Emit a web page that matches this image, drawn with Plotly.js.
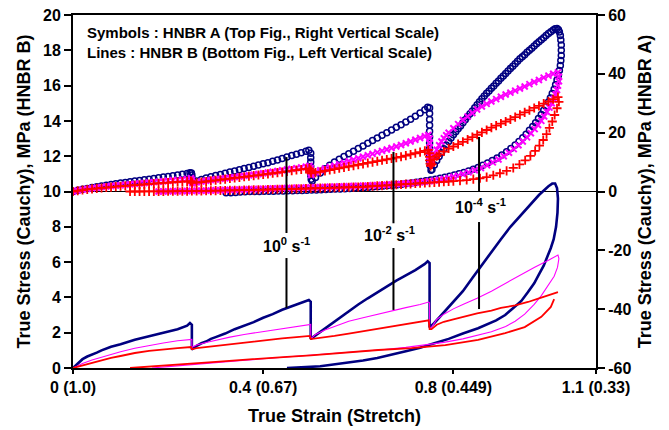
<!DOCTYPE html>
<html>
<head>
<meta charset="utf-8">
<script src="https://cdn.plot.ly/plotly-3.0.1.min.js"></script>
<style>
  html, body { margin: 0; padding: 0; background: #fff; }
  #chart { width: 669px; height: 430px; }
</style>
</head>
<body>
<div id="chart"></div>
<script>
// HNBR A (symbols, right scale): [true strain, true stress MPa]
const hnbrA_rate0_load = [
  [0,0],[0.01,0.4],[0.02,0.75],[0.03,1.05],[0.04,1.35],[0.05,1.6],[0.06,1.85],[0.07,2.1],[0.08,2.35],[0.09,2.6],[0.10,2.85],[0.11,3.1],[0.12,3.3],[0.13,3.55],[0.14,3.75],[0.15,4.0],[0.16,4.2],[0.17,4.45],[0.18,4.65],[0.19,4.9],[0.20,5.1],[0.21,5.35],[0.22,5.6],[0.23,5.85],[0.24,6.1],[0.246,6.35],[0.249,6.3],[0.25,5.6],[0.25,4.8],[0.25,4.0],[0.251,3.4],
  [0.26,3.6],[0.27,4.1],[0.28,4.6],[0.29,5.0],[0.30,5.4],[0.31,5.8],[0.32,6.2],[0.33,6.6],[0.34,7.0],[0.35,7.4],[0.36,7.8],[0.37,8.2],[0.38,8.6],[0.39,9.0],[0.40,9.4],[0.41,9.8],[0.42,10.3],[0.43,10.7],[0.44,11.2],[0.45,11.7],[0.46,12.2],[0.47,12.7],[0.48,13.2],[0.49,13.7],[0.496,14.0],[0.5,13.0],[0.5,11.5],[0.5,10.0],[0.5,8.5],[0.5,7.0],[0.5,5.5],[0.501,4.2],[0.503,3.6],
  [0.51,4.8],[0.52,6.3],[0.53,7.7],[0.54,8.9],[0.55,10.0],[0.56,11.0],[0.57,11.9],[0.58,12.8],[0.59,13.7],[0.60,14.6],[0.61,15.5],[0.62,16.4],[0.63,17.3],[0.64,18.2],[0.65,19.1],[0.66,20.0],[0.67,20.9],[0.68,21.8],[0.69,22.7],[0.70,23.6],[0.71,24.6],[0.72,25.6],[0.73,26.7],[0.74,27.8],[0.746,28.6],[0.75,28.4],[0.75,26.5],[0.75,24.5],[0.75,22.5],[0.75,20.5],[0.75,18.5],[0.75,16.5],[0.75,14.5],[0.75,12.5],[0.75,10.5],[0.751,8.8],[0.753,7.2],
  [0.755,7.5],[0.76,9.0],[0.765,10.5],[0.77,11.9],[0.775,13.2],[0.78,14.5],[0.785,15.8],[0.79,17.0],[0.795,18.2],[0.80,19.3],[0.805,20.3],[0.81,21.3],[0.815,22.3],[0.82,23.4],[0.825,24.4],[0.83,25.4],[0.835,26.4],[0.84,27.4],[0.845,28.5],[0.85,29.5],[0.855,30.5],[0.86,31.5],[0.865,32.5],[0.87,33.4],[0.875,34.2],[0.88,35.1],[0.885,35.9],[0.89,36.8],[0.895,37.6],[0.90,38.5],[0.905,39.3],[0.91,40.1],[0.915,41.0],[0.92,41.8],[0.925,42.6],[0.93,43.4],[0.935,44.3],[0.94,45.1],[0.945,45.8],[0.95,46.5],[0.955,47.3],[0.96,48.0],[0.965,48.7],[0.97,49.5],[0.975,50.2],[0.98,50.9],[0.985,51.6],[0.99,52.3],[0.995,53.0],[1.0,53.7],[1.005,54.3],[1.01,54.9],[1.014,55.3],[1.018,55.4],[1.021,55.0],[1.023,54.2],[1.025,53.0]
];
const hnbrA_rate0_unload = [
  [1.026,51.5],[1.027,49.8],[1.027,48.0],[1.027,46.2],[1.026,44.5],[1.025,42.8],[1.023,41.1],[1.021,39.5],[1.018,37.9],[1.015,36.3],[1.012,34.8],[1.008,33.3],[1.004,31.8],[1.0,30.4],[0.995,29.0],[0.99,27.6],[0.985,26.2],[0.979,24.8],[0.973,23.4],[0.967,22.1],[0.96,20.8],[0.953,19.5],[0.946,18.3],[0.938,17.0],[0.93,15.8],[0.921,14.6],[0.912,13.5],[0.902,12.4],[0.892,11.4],[0.882,10.5],[0.872,9.7],[0.862,8.9],[0.852,8.2],[0.842,7.6],[0.832,7.0],[0.822,6.5],[0.812,6.0],[0.802,5.6],[0.792,5.2],[0.782,4.85],[0.772,4.5],[0.762,4.2],[0.752,3.9],[0.742,3.65],[0.732,3.4],[0.722,3.15],[0.712,2.9],[0.702,2.7],[0.692,2.5],[0.682,2.3],[0.672,2.15],[0.662,2.0],[0.652,1.85],[0.642,1.7],[0.632,1.58],[0.622,1.46],[0.612,1.35],[0.602,1.25],[0.592,1.15],[0.582,1.05],[0.572,0.97],[0.562,0.89],[0.552,0.81],[0.542,0.74],[0.532,0.67],[0.522,0.6],[0.512,0.54],[0.502,0.48],[0.492,0.42],[0.482,0.37],[0.472,0.32],[0.462,0.27],[0.452,0.23],[0.442,0.19],[0.432,0.15],[0.422,0.12],[0.412,0.09],[0.402,0.06],[0.392,0.04],[0.382,0.02],[0.372,0.0],[0.362,-0.1],[0.352,-0.2],[0.342,-0.3],[0.332,-0.4],[0.322,-0.4]
];
const hnbrA_rate2_load = [
  [0,0],[0.01,0.35],[0.02,0.65],[0.03,0.9],[0.04,1.1],[0.05,1.3],[0.06,1.5],[0.07,1.7],[0.08,1.85],[0.09,2.0],[0.10,2.15],[0.11,2.3],[0.12,2.45],[0.13,2.6],[0.14,2.75],[0.15,2.9],[0.16,3.05],[0.17,3.2],[0.18,3.35],[0.19,3.5],[0.20,3.65],[0.21,3.8],[0.22,3.95],[0.23,4.1],[0.24,4.3],[0.248,4.5],[0.25,3.9],[0.25,3.3],[0.251,2.8],
  [0.26,3.1],[0.27,3.4],[0.28,3.65],[0.29,3.9],[0.30,4.1],[0.31,4.3],[0.32,4.5],[0.33,4.7],[0.34,4.9],[0.35,5.1],[0.36,5.3],[0.37,5.5],[0.38,5.7],[0.39,5.95],[0.40,6.2],[0.41,6.45],[0.42,6.7],[0.43,6.95],[0.44,7.2],[0.45,7.45],[0.46,7.7],[0.47,7.95],[0.48,8.2],[0.49,8.45],[0.497,8.7],[0.5,8.0],[0.5,7.2],[0.5,6.4],[0.501,5.6],
  [0.51,6.5],[0.52,7.2],[0.53,7.8],[0.54,8.3],[0.55,8.8],[0.56,9.3],[0.57,9.8],[0.58,10.3],[0.59,10.8],[0.60,11.3],[0.61,11.8],[0.62,12.3],[0.63,12.8],[0.64,13.3],[0.65,13.8],[0.66,14.3],[0.67,14.8],[0.68,15.3],[0.69,15.8],[0.70,16.4],[0.71,17.0],[0.72,17.6],[0.73,18.2],[0.74,18.8],[0.747,19.2],[0.75,18.0],[0.75,16.5],[0.75,15.0],[0.75,13.5],[0.75,12.0],[0.751,10.5],[0.752,9.5],
  [0.755,10.5],[0.76,12.5],[0.765,14.2],[0.77,15.7],[0.775,17.0],[0.78,18.1],[0.785,19.1],[0.79,20.0],[0.80,21.5],[0.81,22.9],[0.82,24.3],[0.83,25.5],[0.84,26.7],[0.85,27.9],[0.86,28.9],[0.87,29.8],[0.88,30.6],[0.89,31.4],[0.90,32.2],[0.91,33.0],[0.92,33.6],[0.93,34.3],[0.94,35.0],[0.95,35.7],[0.96,36.5],[0.97,37.2],[0.98,37.9],[0.99,38.7],[1.0,39.4],[1.01,40.0],[1.02,40.5]
];
const hnbrA_rate2_unload = [
  [1.022,39.0],[1.022,37.5],[1.02,36.0],[1.018,34.5],[1.015,33.0],[1.011,31.5],[1.007,30.0],[1.002,28.5],[0.997,27.0],[0.991,25.5],[0.985,24.0],[0.978,22.6],[0.971,21.2],[0.963,19.8],[0.955,18.4],[0.946,17.0],[0.937,15.7],[0.927,14.4],[0.917,13.2],[0.906,12.0],[0.895,10.9],[0.883,9.9],[0.871,8.9],[0.858,8.0],[0.845,7.2],[0.832,6.5],[0.82,5.9],[0.81,5.4],[0.80,5.0],[0.79,4.6],[0.78,4.3],[0.77,4.0],[0.76,3.7],[0.75,3.5],[0.74,3.3],[0.73,3.1],[0.72,2.95],[0.71,2.8],[0.70,2.7],[0.69,2.6],[0.68,2.5],[0.67,2.4],[0.66,2.3],[0.65,2.2],[0.64,2.15],[0.63,2.1],[0.62,2.0],[0.61,1.95],[0.60,1.9],[0.59,1.85],[0.58,1.8],[0.57,1.75],[0.56,1.7],[0.55,1.65],[0.54,1.6],[0.53,1.55],[0.52,1.5],[0.51,1.45],[0.50,1.4],[0.49,1.35],[0.48,1.3],[0.47,1.25],[0.46,1.2],[0.45,1.15],[0.44,1.1],[0.43,1.05],[0.42,1.0],[0.41,0.95],[0.40,0.9],[0.39,0.85],[0.38,0.8],[0.37,0.75],[0.36,0.7],[0.35,0.65],[0.34,0.6],[0.33,0.55],[0.32,0.5],[0.31,0.45],[0.30,0.4],[0.29,0.35],[0.28,0.3],[0.27,0.27],[0.26,0.24],[0.25,0.2],[0.24,0.17],[0.23,0.14],[0.22,0.1],[0.21,0.07],[0.20,0.04],[0.19,0.02],[0.18,0.0]
];
const hnbrA_rate4_load = [
  [0,0],[0.01,0.25],[0.02,0.5],[0.03,0.7],[0.04,0.9],[0.05,1.05],[0.06,1.2],[0.07,1.35],[0.08,1.5],[0.09,1.65],[0.10,1.8],[0.11,1.9],[0.12,2.05],[0.13,2.2],[0.14,2.3],[0.15,2.45],[0.16,2.55],[0.17,2.7],[0.18,2.8],[0.19,2.95],[0.20,3.05],[0.21,3.15],[0.22,3.25],[0.23,3.35],[0.24,3.45],[0.248,3.55],[0.25,3.2],[0.251,2.9],
  [0.26,3.0],[0.27,3.2],[0.28,3.4],[0.29,3.6],[0.30,3.8],[0.31,4.0],[0.32,4.2],[0.33,4.4],[0.34,4.6],[0.35,4.8],[0.36,5.0],[0.37,5.2],[0.38,5.4],[0.39,5.6],[0.40,5.8],[0.41,6.0],[0.42,6.2],[0.43,6.4],[0.44,6.6],[0.45,6.85],[0.46,7.1],[0.47,7.3],[0.48,7.5],[0.49,7.7],[0.497,7.85],[0.5,7.3],[0.5,6.7],[0.501,6.2],
  [0.51,6.4],[0.52,6.7],[0.53,7.0],[0.54,7.3],[0.55,7.6],[0.56,7.9],[0.57,8.2],[0.58,8.5],[0.59,8.8],[0.60,9.1],[0.61,9.4],[0.62,9.7],[0.63,10.0],[0.64,10.3],[0.65,10.6],[0.66,10.9],[0.67,11.2],[0.68,11.5],[0.69,11.8],[0.70,12.2],[0.71,12.6],[0.72,13.0],[0.73,13.4],[0.74,13.8],[0.747,14.1],[0.75,13.0],[0.75,11.8],[0.75,10.6],[0.751,9.5],[0.752,8.7],
  [0.755,9.2],[0.76,11.0],[0.765,12.0],[0.77,12.6],[0.78,13.6],[0.79,14.6],[0.80,15.3],[0.81,16.1],[0.82,16.9],[0.83,17.7],[0.84,18.5],[0.85,19.3],[0.86,20.1],[0.87,20.9],[0.88,21.7],[0.89,22.4],[0.90,23.1],[0.91,23.8],[0.92,24.5],[0.93,25.3],[0.94,26.1],[0.95,26.9],[0.96,27.6],[0.97,28.4],[0.98,29.1],[0.99,29.9],[1.0,30.6],[1.01,31.4],[1.02,32.1]
];
const hnbrA_rate4_unload = [
  [1.022,30.5],[1.018,28.3],[1.013,26.0],[1.008,23.8],[1.002,21.6],[0.996,19.5],[0.989,17.5],[0.981,15.6],[0.972,13.8],[0.962,12.1],[0.951,10.6],[0.939,9.2],[0.926,8.0],[0.912,7.0],[0.898,6.2],[0.884,5.5],[0.87,4.9],[0.856,4.5],[0.842,4.2],[0.828,3.9],[0.814,3.7],[0.80,3.5],[0.79,3.4],[0.78,3.3],[0.77,3.2],[0.76,3.1],[0.75,3.0],[0.74,2.9],[0.73,2.8],[0.72,2.7],[0.71,2.6],[0.70,2.5],[0.69,2.4],[0.68,2.3],[0.67,2.2],[0.66,2.1],[0.65,2.0],[0.64,1.9],[0.63,1.8],[0.62,1.7],[0.61,1.6],[0.60,1.55],[0.59,1.5],[0.58,1.45],[0.57,1.4],[0.56,1.35],[0.55,1.3],[0.54,1.25],[0.53,1.2],[0.52,1.15],[0.51,1.1],[0.50,1.05],[0.49,1.0],[0.48,0.95],[0.47,0.9],[0.46,0.86],[0.45,0.82],[0.44,0.78],[0.43,0.74],[0.42,0.7],[0.41,0.66],[0.40,0.62],[0.39,0.58],[0.38,0.54],[0.37,0.5],[0.36,0.47],[0.35,0.44],[0.34,0.41],[0.33,0.38],[0.32,0.35],[0.31,0.32],[0.30,0.29],[0.29,0.26],[0.28,0.23],[0.27,0.2],[0.26,0.18],[0.25,0.16],[0.24,0.14],[0.23,0.12],[0.22,0.1],[0.21,0.08],[0.20,0.06],[0.19,0.05],[0.18,0.04],[0.17,0.03],[0.16,0.02],[0.15,0.01],[0.14,0.0],[0.13,0.0],[0.12,0.0]
];

// HNBR B (lines, left scale): [true strain, true stress MPa]
const hnbrB_rate0 = [
  [0,0],[0.01,0.25],[0.02,0.5],[0.03,0.65],[0.04,0.75],[0.05,0.87],[0.06,1.0],[0.08,1.2],[0.10,1.35],[0.13,1.6],[0.16,1.8],[0.18,1.93],[0.20,2.05],[0.22,2.2],[0.24,2.4],[0.246,2.55],[0.25,2.45],[0.25,1.05],
  [0.26,1.25],[0.27,1.4],[0.28,1.5],[0.29,1.65],[0.30,1.75],[0.32,1.95],[0.34,2.2],[0.36,2.4],[0.38,2.6],[0.40,2.85],[0.42,3.05],[0.44,3.3],[0.46,3.5],[0.48,3.7],[0.496,3.85],[0.5,3.75],[0.5,1.65],
  [0.51,1.85],[0.52,2.05],[0.53,2.25],[0.54,2.45],[0.55,2.65],[0.56,2.85],[0.57,3.05],[0.58,3.25],[0.60,3.6],[0.62,3.95],[0.64,4.3],[0.66,4.65],[0.68,4.95],[0.70,5.25],[0.72,5.55],[0.74,5.9],[0.746,6.05],[0.75,5.95],[0.75,2.3],
  [0.76,2.55],[0.77,2.85],[0.78,3.1],[0.80,3.7],[0.82,4.35],[0.84,5.1],[0.86,5.85],[0.88,6.6],[0.90,7.3],[0.92,8.0],[0.94,8.6],[0.96,9.2],[0.98,9.8],[1.0,10.3],[1.008,10.45],[1.014,10.45],[1.018,10.2],[1.02,9.6],
  [1.019,8.8],[1.016,8.0],[1.011,7.3],[1.005,6.8],[0.998,6.3],[0.99,5.8],[0.98,5.3],[0.97,4.8],[0.957,4.3],[0.943,3.8],[0.926,3.4],[0.909,3.0],[0.89,2.7],[0.87,2.45],[0.852,2.25],[0.82,1.95],[0.79,1.65],[0.76,1.4],[0.73,1.15],[0.70,0.95],[0.67,0.75],[0.64,0.57],[0.61,0.42],[0.58,0.3],[0.55,0.2],[0.52,0.1],[0.49,0.05],[0.45,0.0]
];
const hnbrB_rate2 = [
  [0,0],[0.02,0.25],[0.04,0.45],[0.06,0.62],[0.08,0.78],[0.10,0.92],[0.13,1.12],[0.16,1.28],[0.19,1.42],[0.22,1.54],[0.245,1.64],[0.25,1.62],[0.25,1.17],
  [0.26,1.3],[0.28,1.45],[0.30,1.58],[0.33,1.75],[0.36,1.9],[0.39,2.03],[0.42,2.15],[0.45,2.28],[0.48,2.4],[0.497,2.49],[0.5,2.47],[0.5,1.65],
  [0.51,1.9],[0.53,2.15],[0.55,2.35],[0.58,2.65],[0.61,2.85],[0.64,3.05],[0.67,3.23],[0.70,3.42],[0.73,3.6],[0.748,3.74],[0.75,3.7],[0.75,2.27],
  [0.754,2.3],[0.765,2.75],[0.78,3.05],[0.80,3.35],[0.82,3.6],[0.85,3.95],[0.88,4.35],[0.91,4.8],[0.94,5.25],[0.97,5.7],[1.0,6.1],[1.02,6.4],
  [1.022,6.2],[1.019,5.7],[1.012,5.2],[1.0,4.7],[0.985,4.1],[0.97,3.6],[0.95,3.05],[0.93,2.65],[0.91,2.35],[0.88,2.05],[0.85,1.85],[0.82,1.65],[0.78,1.45],[0.74,1.3],[0.70,1.17],[0.65,1.03],[0.60,0.92],[0.55,0.82],[0.50,0.72],[0.45,0.63],[0.40,0.52],[0.35,0.42],[0.30,0.32],[0.25,0.2],[0.20,0.08],[0.166,0]
];
const hnbrB_rate4_load = [
  [0,0],[0.02,0.15],[0.04,0.3],[0.06,0.44],[0.08,0.57],[0.10,0.68],[0.13,0.85],[0.16,0.97],[0.19,1.06],[0.22,1.13],[0.248,1.19],[0.25,1.06],
  [0.26,1.12],[0.29,1.22],[0.32,1.32],[0.35,1.42],[0.38,1.52],[0.41,1.6],[0.44,1.68],[0.47,1.75],[0.498,1.82],[0.5,1.64],
  [0.52,1.7],[0.55,1.82],[0.58,1.95],[0.61,2.08],[0.64,2.2],[0.67,2.33],[0.70,2.45],[0.73,2.6],[0.748,2.7],[0.75,2.2],
  [0.754,2.2],[0.765,2.45],[0.78,2.62],[0.80,2.75],[0.82,2.88],[0.85,3.1],[0.88,3.25],[0.90,3.4],[0.93,3.55],[0.957,3.74],[0.98,3.95],[1.0,4.12],[1.02,4.3]
];
const hnbrB_rate4_unload = [
  [1.012,3.9],[1.005,3.46],[0.985,2.9],[0.95,2.32],[0.909,1.98],[0.852,1.59],[0.783,1.3],[0.712,1.13],[0.642,1.02],[0.60,0.92],[0.55,0.82],[0.50,0.72],[0.45,0.63],[0.41,0.57],[0.35,0.45],[0.30,0.35],[0.25,0.25],[0.20,0.15],[0.16,0.08],[0.12,0]
];

// Rate call-outs: strain of each pointer, its two stroke spans (left scale) and label centre
const rateLabels = ['10<sup>0</sup> s<sup>-1</sup>', '10<sup>-2</sup> s<sup>-1</sup>', '10<sup>-4</sup> s<sup>-1</sup>'];
const pointerStrain = [0.449, 0.674, 0.854];
const pointerUpper = [[11.95, 7.65], [12.24, 8.2], [13.09, 9.97]];
const pointerLower = [[6.23, 3.4], [6.8, 3.29], [8.27, 3.34]];
const labelStrain = [0.448, 0.665, 0.858];
const labelStress = [6.95, 7.58, 9.17];

// Axis ticks
const strainTicks = [0, 0.4, 0.8, 1.1];
const strainTickText = ['0 (1.0)', '0.4 (0.67)', '0.8 (0.449)', '1.1 (0.33)'];
const leftTicks = [0, 2, 4, 6, 8, 10, 12, 14, 16, 18, 20];
const rightTicks = [-60, -40, -20, 0, 20, 40, 60];
const rightTickText = ['-60', '-40', '-20', '0', '20', '40', '60'];

const NAVY = '#000080', MAGENTA = '#ff00ff', RED = '#ff0000';
const FONT = 'Liberation Sans, Arial, Helvetica, sans-serif';
const xs = p => p.map(d => d[0]);
const ys = p => p.map(d => d[1]);

function lineTrace(pts, color, width) {
  return { x: xs(pts), y: ys(pts), yaxis: 'y', mode: 'lines', type: 'scatter',
           line: { color: color, width: width }, hoverinfo: 'skip' };
}
function symbolTrace(pts, color, symbol, size, lw) {
  return { x: xs(pts), y: ys(pts), yaxis: 'y2', mode: 'markers', type: 'scatter',
           marker: { symbol: symbol, size: size, color: color, line: { color: color, width: lw } },
           hoverinfo: 'skip' };
}

const traces = [
  lineTrace(hnbrB_rate0, NAVY, 2.6),
  lineTrace(hnbrB_rate2, MAGENTA, 1.1),
  lineTrace(hnbrB_rate4_load, RED, 1.8),
  lineTrace(hnbrB_rate4_unload, RED, 1.8),
  symbolTrace(hnbrA_rate0_load.concat(hnbrA_rate0_unload), NAVY, 'circle-open', 6, 1.5),
  symbolTrace(hnbrA_rate2_load.concat(hnbrA_rate2_unload), MAGENTA, 'x-thin-open', 6, 2),
  symbolTrace(hnbrA_rate4_load.concat(hnbrA_rate4_unload), RED, 'cross-thin-open', 6.5, 1.8)
];

const shapes = [];
pointerStrain.forEach((s, i) => {
  [pointerUpper[i], pointerLower[i]].forEach(span => {
    shapes.push({ type: 'line', xref: 'x', yref: 'y', x0: s, x1: s, y0: span[0], y1: span[1],
                  line: { color: '#000', width: 2 } });
  });
});

const annotations = rateLabels.map((t, i) => ({
  x: labelStrain[i], y: labelStress[i], xref: 'x', yref: 'y', text: t, showarrow: false,
  font: { family: FONT, size: 16, color: '#000', weight: 'bold' }
}));
annotations.push({
  x: 0.023, y: 0.98, xref: 'paper', yref: 'paper', xanchor: 'left', yanchor: 'top', align: 'left',
  showarrow: false,
  text: 'Symbols : HNBR A (Top Fig., Right Vertical Scale)<br>Lines : HNBR B (Bottom Fig., Left Vertical Scale)',
  font: { family: FONT, size: 15, color: '#000', weight: 'bold' }
});

const tickFont = { family: FONT, size: 16, color: '#000', weight: 'bold' };
const titleFont = { family: FONT, size: 18, color: '#000', weight: 'bold' };

const layout = {
  width: 669, height: 430,
  margin: { l: 73, r: 73, t: 15, b: 62, pad: 0 },
  paper_bgcolor: '#fff', plot_bgcolor: '#fff',
  showlegend: false,
  xaxis: {
    range: [0, 1.1], tickmode: 'array', tickvals: strainTicks, ticktext: strainTickText,
    ticks: 'outside', ticklen: 4, tickwidth: 2, tickcolor: '#000',
    showline: true, linewidth: 2, linecolor: '#000', mirror: true,
    showgrid: false, zeroline: false, tickfont: tickFont,
    title: { text: 'True Strain (Stretch)', font: titleFont, standoff: 14 }
  },
  yaxis: {
    range: [0, 20], tickmode: 'array', tickvals: leftTicks,
    ticks: 'outside', ticklen: 7, tickwidth: 2, tickcolor: '#000',
    showline: true, linewidth: 2, linecolor: '#000',
    showgrid: false, zeroline: false, tickfont: tickFont,
    title: { text: 'True Stress (Cauchy), MPa (HNBR B)', font: titleFont, standoff: 8 }
  },
  yaxis2: {
    overlaying: 'y', side: 'right', range: [-60, 60], tickmode: 'array',
    tickvals: rightTicks, ticktext: rightTickText,
    ticks: 'outside', ticklen: 7, tickwidth: 2, tickcolor: '#000',
    showline: true, linewidth: 2, linecolor: '#000',
    showgrid: false, zeroline: true, zerolinecolor: '#000', zerolinewidth: 1.5,
    tickfont: tickFont,
    title: { text: 'True Stress (Cauchy), MPa (HNBR A)', font: titleFont, standoff: 8 }
  },
  shapes: shapes,
  annotations: annotations
};

Plotly.newPlot('chart', traces, layout, { staticPlot: true, displayModeBar: false });
</script>
</body>
</html>
